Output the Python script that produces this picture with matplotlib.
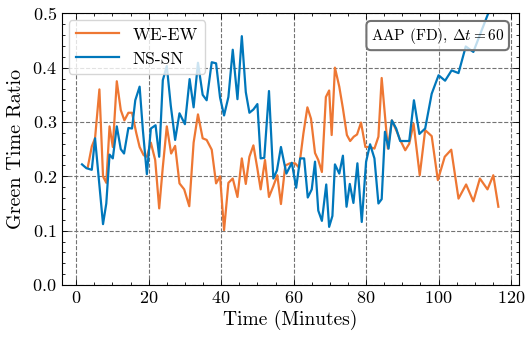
import matplotlib
matplotlib.use("Agg")
import matplotlib.pyplot as plt
from matplotlib.ticker import MultipleLocator

# values (time in minutes, green time ratio)
we_ew_t = [3.2, 4.3, 5.2, 6.4, 7.4, 8.3, 9.2, 10.1, 11.2, 12.3, 13.3, 14.4, 15.4, 16.6,
           17.5, 18.6, 19.5, 20.6, 21.8, 22.9, 23.9, 25.0, 26.2, 27.3, 28.5, 29.8, 31.2,
           32.4, 33.6, 34.9, 36.0, 37.4, 38.6, 39.7, 40.8, 42.0, 43.2, 44.5, 45.7, 46.8,
           47.8, 48.9, 50.0, 50.9, 52.1, 53.2, 54.4, 55.5, 56.5, 57.7, 59.0, 60.4, 61.5,
           62.7, 63.8, 64.8, 65.9, 66.8, 67.8, 68.9, 69.8, 70.5, 71.4, 72.6, 73.6, 74.7,
           75.6, 76.6, 77.5, 78.6, 79.8, 81.1, 82.3, 83.4, 84.3, 86.0, 87.1, 88.5, 89.4,
           90.8, 91.9, 93.1, 94.8, 96.3, 98.1, 99.8, 101.7, 103.5, 105.5, 107.6, 109.6,
           111.4, 113.5, 115.1, 116.5]
we_ew = [0.217, 0.255, 0.270, 0.360, 0.200, 0.188, 0.292, 0.254, 0.375, 0.322, 0.303,
         0.317, 0.317, 0.279, 0.254, 0.239, 0.236, 0.262, 0.230, 0.141, 0.217, 0.292,
         0.242, 0.256, 0.187, 0.176, 0.145, 0.262, 0.314, 0.270, 0.267, 0.249, 0.187,
         0.200, 0.101, 0.188, 0.196, 0.162, 0.233, 0.186, 0.236, 0.257, 0.214, 0.176,
         0.230, 0.162, 0.182, 0.202, 0.149, 0.220, 0.224, 0.224, 0.216, 0.279, 0.327,
         0.306, 0.243, 0.230, 0.208, 0.346, 0.358, 0.276, 0.400, 0.365, 0.325, 0.276,
         0.265, 0.273, 0.277, 0.299, 0.254, 0.254, 0.251, 0.273, 0.381, 0.251, 0.303,
         0.282, 0.267, 0.248, 0.260, 0.297, 0.202, 0.285, 0.274, 0.193, 0.236, 0.249,
         0.159, 0.185, 0.154, 0.196, 0.176, 0.202, 0.144]

ns_sn_t = [1.6, 2.8, 4.3, 5.2, 7.4, 8.3, 9.2, 10.1, 11.2, 12.3, 13.2, 14.4, 15.4, 16.3,
           17.5, 18.4, 19.5, 20.6, 21.9, 22.9, 23.9, 25.0, 26.1, 27.3, 28.5, 30.0, 31.3,
           32.4, 33.6, 34.9, 36.0, 37.4, 38.6, 39.7, 40.8, 42.0, 43.2, 44.5, 45.7, 46.8,
           47.8, 48.9, 50.0, 50.9, 51.9, 53.2, 54.4, 55.4, 56.5, 58.0, 59.5, 60.7, 61.8,
           62.9, 63.9, 65.0, 65.9, 66.8, 67.8, 69.0, 69.8, 70.7, 71.4, 72.6, 73.6, 74.6,
           75.5, 76.5, 77.6, 78.8, 80.0, 81.1, 82.3, 83.4, 84.3, 85.2, 86.2, 87.1, 88.3,
           89.4, 90.8, 91.9, 93.2, 94.7, 96.3, 98.1, 100.0, 101.8, 103.6, 105.5, 107.5,
           109.6, 111.5, 114.0, 116.3]
ns_sn = [0.222, 0.215, 0.212, 0.270, 0.112, 0.150, 0.240, 0.233, 0.292, 0.250, 0.242,
         0.289, 0.288, 0.340, 0.365, 0.285, 0.204, 0.288, 0.294, 0.236, 0.377, 0.403,
         0.330, 0.267, 0.316, 0.296, 0.379, 0.327, 0.409, 0.350, 0.340, 0.410, 0.408,
         0.345, 0.312, 0.346, 0.433, 0.342, 0.458, 0.355, 0.317, 0.323, 0.333, 0.233,
         0.234, 0.357, 0.196, 0.211, 0.254, 0.205, 0.225, 0.179, 0.233, 0.233, 0.161,
         0.176, 0.227, 0.137, 0.118, 0.185, 0.107, 0.127, 0.222, 0.205, 0.238, 0.144,
         0.186, 0.151, 0.224, 0.116, 0.227, 0.259, 0.233, 0.150, 0.158, 0.282, 0.251,
         0.303, 0.288, 0.265, 0.265, 0.265, 0.340, 0.278, 0.288, 0.352, 0.386, 0.376,
         0.395, 0.390, 0.439, 0.429, 0.462, 0.505, 0.580]

plt.rcParams['font.family'] = 'cmr10'
plt.rcParams['mathtext.fontset'] = 'cm'
plt.rcParams['axes.formatter.use_mathtext'] = True
plt.rcParams['font.size'] = 13

fig = plt.figure(figsize=(5.32, 3.42), dpi=100)
ax = fig.add_axes([0.116, 0.1667, 0.8596, 0.7943])

ax.plot(we_ew_t, we_ew, color='#EE7733', lw=1.6, label='WE-EW')
ax.plot(ns_sn_t, ns_sn, color='#0077BB', lw=1.6, label='NS-SN')

ax.set_ylim(0, 0.5)
ax.set_xlim(-4, 122.2)
ax.xaxis.set_major_locator(MultipleLocator(20))
ax.xaxis.set_minor_locator(MultipleLocator(5))
ax.yaxis.set_major_locator(MultipleLocator(0.1))
ax.yaxis.set_minor_locator(MultipleLocator(0.02))
ax.tick_params(which='both', direction='in', top=True, right=True, labelsize=13)
ax.tick_params(which='major', length=4, width=0.6)
ax.tick_params(which='minor', length=2, width=0.6)
for s in ax.spines.values():
    s.set_linewidth(0.8)

ax.grid(True, linestyle='--', color='0.45', lw=0.8)
ax.set_xlabel('Time (Minutes)', fontsize=14, labelpad=3)
ax.set_ylabel('Green Time Ratio', fontsize=14.5, labelpad=5)

ax.legend(loc='upper left', handlelength=2.5, fancybox=True, fontsize=12.5,
          borderaxespad=0.4)
ax.text(0.968, 0.955, r'AAP (FD), $\Delta t=60$', transform=ax.transAxes,
        ha='right', va='top', fontsize=11,
        bbox=dict(boxstyle='round,pad=0.3', facecolor=(1, 1, 1, 0.75),
                  edgecolor='0.45', lw=1.5))

fig.savefig('out.png', dpi=100)
